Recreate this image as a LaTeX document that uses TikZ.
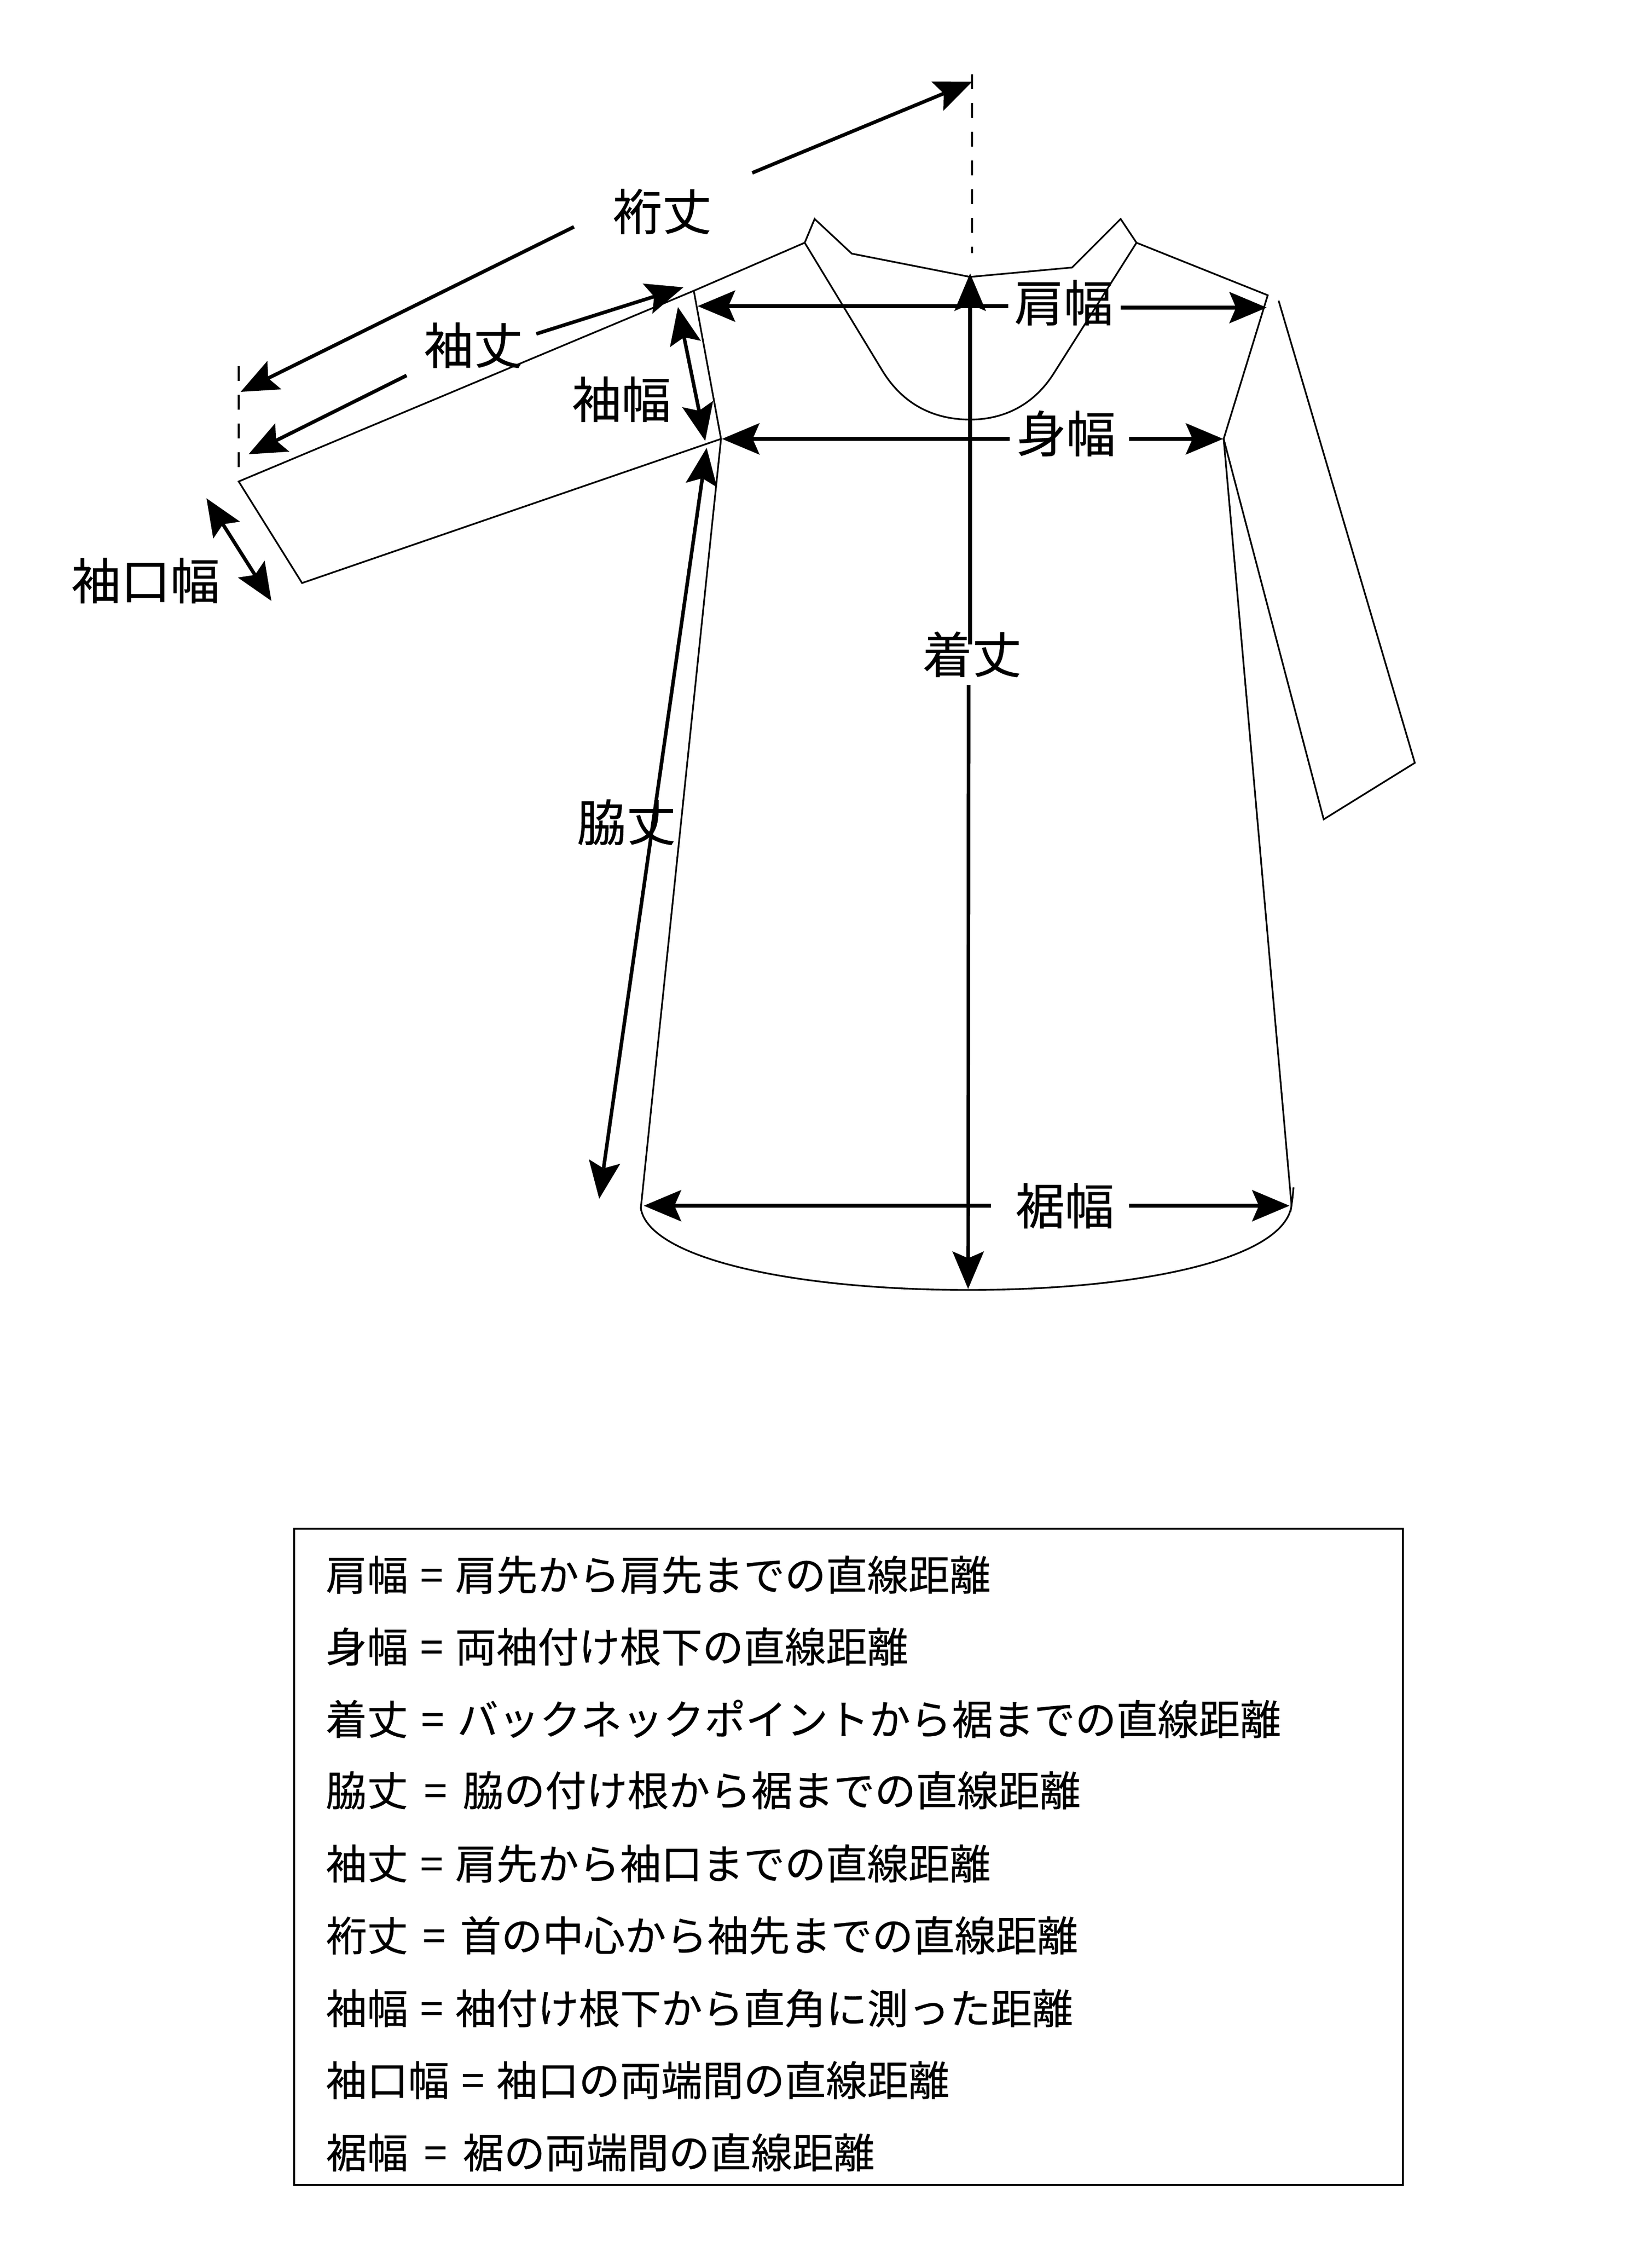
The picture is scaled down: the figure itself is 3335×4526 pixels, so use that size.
\documentclass[tikz,border=0pt]{standalone}
\usepackage{fontspec}
\newfontfamily\cjk[FakeBold=0.35]{Noto Sans CJK JP}
\usetikzlibrary{arrows.meta}
\tikzset{
  thin line/.style={line width=0.85pt,line join=miter},
  dimtip/.tip={Stealth[length=19pt,width=16pt,inset=3.5pt,line width=0pt]},
  dimline/.style={line width=1.8pt,-{dimtip}},
  dimboth/.style={line width=1.8pt,{dimtip}-{dimtip}},
  guide/.style={line width=0.85pt,dash pattern=on 7.5pt off 7pt},
  biglabel/.style={font=\cjk\fontsize{25}{25}\selectfont,inner sep=0pt},
  legendline/.style={font=\cjk\fontsize{20.8}{20.8}\selectfont,execute at begin node={\spaceskip=#1\relax},inner sep=0pt,anchor=west},
  legendline/.default={6.1pt},
}
\begin{document}
\begin{tikzpicture}[x=0.25pt,y=-0.25pt]
\useasboundingbox (0,0) rectangle (3335,4526);
% garment
\draw[thin line] (1401,587) -- (1625,490) -- (1645,442) -- (1720,512) -- (1959,559) -- (2165,540) -- (2263,442) -- (2295,490) -- (2560,596) -- (2471,886)
  -- (2608,2433) .. controls (2610,2420) and (2611,2410) .. (2612,2397);
\draw[thin line] (1401,587) -- (1456,886) -- (1294,2439)
  .. controls (1310,2540) and (1600,2604) .. (1955,2604)
  .. controls (2310,2604) and (2595,2540) .. (2608,2433);
\draw[thin line] (1401,587) -- (482,972) -- (610,1177) -- (1456,886);
\draw[thin line] (1625,490) -- (1781,747) .. controls (1825,820) and (1890,847) .. (1959,847)
  .. controls (2030,847) and (2090,815) .. (2129,752) -- (2295,490);
\draw[thin line] (2582,607) -- (2857,1540) -- (2673,1654) -- (2471,886);
% guides
\coordinate (gaT) at (1963,150); \coordinate (gaB) at (1963,511);
\coordinate (gbT) at (482,739);  \coordinate (gbB) at (482,946);
\draw[guide] (gaT) -- (gaB);
\draw[guide] (gbT) -- (gbB);
% labels
\node[biglabel] (lYuki) at (1337,427) {裄丈};
\node[biglabel] (lSode) at (956,697) {袖丈};
\node[biglabel] (lSodeh) at (1255,806) {袖幅};
\node[biglabel] (lCuff) at (294,1172) {袖口幅};
\node[biglabel] (lKata) at (2148,611) {肩幅};
\node[biglabel] (lMi) at (2153,875) {身幅};
\node[biglabel] (lKi) at (1963,1321) {着丈};
\node[biglabel] (lWaki) at (1265,1660) {脇丈};
\node[biglabel] (lSuso) at (2150,2434) {裾幅};
% arrow end points
\coordinate (y1a) at (1159,458); \coordinate (y1b) at (486,791);
\coordinate (y2a) at (1519,349); \coordinate (y2b) at (1963,165);
\coordinate (s1a) at (1083,674); \coordinate (s1b) at (1380,580);
\coordinate (s2a) at (821,758);  \coordinate (s2b) at (502,917);
\coordinate (shA) at (1369,620); \coordinate (shB) at (1424,890);
\coordinate (cuA) at (417,1006); \coordinate (cuB) at (548,1213);
\coordinate (waA) at (1427,904); \coordinate (waB) at (1210,2420);
\coordinate (ka1a) at (2036,618); \coordinate (ka1b) at (1409,618);
\coordinate (ka2a) at (2263,621); \coordinate (ka2b) at (2558,621);
\coordinate (mi1a) at (2039,886); \coordinate (mi1b) at (1458,886);
\coordinate (mi2a) at (2280,886); \coordinate (mi2b) at (2470,886);
\coordinate (ki1a) at (1959,1301); \coordinate (ki1b) at (1959,552);
\coordinate (ki2a) at (1956,1383); \coordinate (ki2b) at (1955,2602);
\coordinate (su1a) at (2001,2434); \coordinate (su1b) at (1300,2434);
\coordinate (su2a) at (2280,2434); \coordinate (su2b) at (2604,2434);
% arrows
\draw[dimline] (y1a) -- (y1b);
\draw[dimline] (y2a) -- (y2b);
\draw[dimline] (s1a) -- (s1b);
\draw[dimline] (s2a) -- (s2b);
\draw[dimboth] (shA) -- (shB);
\draw[dimboth] (cuA) -- (cuB);
\draw[dimboth] (waA) -- (waB);
\draw[dimline] (ka1a) -- (ka1b);
\draw[dimline] (ka2a) -- (ka2b);
\draw[dimline] (mi1a) -- (mi1b);
\draw[dimline] (mi2a) -- (mi2b);
\draw[dimline] (ki1a) -- (ki1b);
\draw[dimline] (ki2a) -- (ki2b);
\draw[dimline] (su1a) -- (su1b);
\draw[dimline] (su2a) -- (su2b);
% legend
\node[draw,line width=0.85pt,minimum width=559.75pt,minimum height=331.25pt,inner sep=0pt,outer sep=0pt] (legend) at (1713.5,3748.5) {};
\node[legendline] (t1) at (657,3179) {肩幅 = 肩先から肩先までの直線距離};
\node[legendline] (t2) at (657,3324) {身幅 = 両袖付け根下の直線距離};
\node[legendline={6.6pt}] (t3) at (657,3470) {着丈 = バックネックポイントから裾までの直線距離};
\node[legendline={8pt}] (t4) at (657,3614) {脇丈 = 脇の付け根から裾までの直線距離};
\node[legendline] (t5) at (657,3762) {袖丈 = 肩先から袖口までの直線距離};
\node[legendline={7.35pt}] (t6) at (657,3907) {裄丈 = 首の中心から袖先までの直線距離};
\node[legendline] (t7) at (657,4054) {袖幅 = 袖付け根下から直角に測った距離};
\node[legendline] (t8) at (657,4199) {袖口幅 = 袖口の両端間の直線距離};
\node[legendline={8pt}] (t9) at (657,4345) {裾幅 = 裾の両端間の直線距離};
\end{tikzpicture}
\end{document}
